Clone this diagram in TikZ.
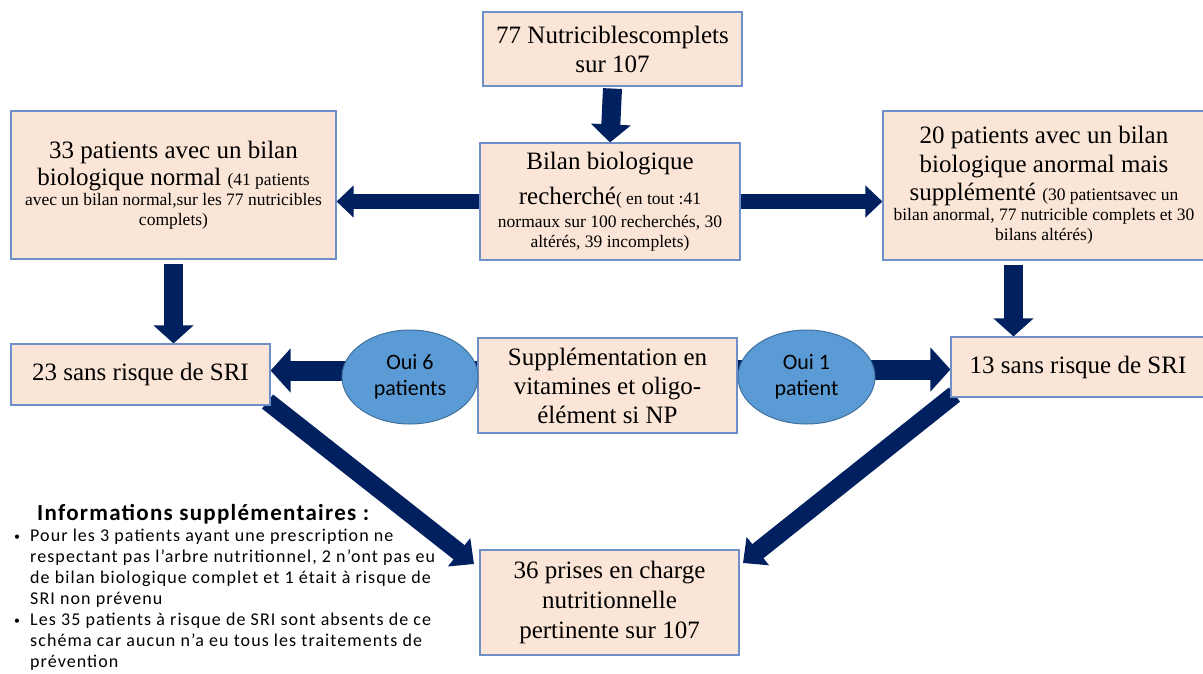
\documentclass[tikz,border=0pt]{standalone}
\usepackage{fontspec}
\setmainfont{Liberation Serif}
\newfontfamily\calib{Carlito}
\newfontfamily\calibls{Carlito}[LetterSpace=6]
\newfontfamily\calibtt{Carlito}[LetterSpace=5.5]
\usetikzlibrary{arrows.meta,shapes.geometric,backgrounds}
\definecolor{navy}{HTML}{002060}
\definecolor{boxfill}{HTML}{FBE5D6}
\definecolor{boxline}{HTML}{6F8FC8}
\definecolor{ellfill}{HTML}{5B9BD5}
\definecolor{ellline}{HTML}{41719C}
\newcommand\fbig{\fontsize{25}{29}\selectfont}
\newcommand\fsml{\fontsize{17.5}{20}\selectfont}
\newcommand\bul{\makebox[16pt][l]{\raisebox{1pt}{\calib\fontsize{12}{12}\selectfont •}}}
\tikzset{
  box/.style={draw=boxline, fill=boxfill, line width=1.1pt, align=center, inner sep=0pt, font=\fbig},
  ell/.style={ellipse, draw=ellline, fill=ellfill, line width=1pt, inner sep=0pt, align=center, font=\calib\fontsize{22}{26}\selectfont},
  varrow/.style={draw=navy, line width=19pt, -{Triangle[length=18pt,width=39pt]}},
  harrow/.style={draw=navy, line width=15pt, -{Triangle[length=17pt,width=31pt]}},
  oarrow/.style={draw=navy, line width=20pt, -{Triangle[length=20pt,width=43pt]}},
  darrow/.style={draw=navy, line width=18pt, -{Triangle[length=19pt,width=35pt]}}
}
\begin{document}
\begin{tikzpicture}[x=1pt,y=-1pt]
\useasboundingbox (0,0) rectangle (1203,673);
% boxes
\node[box, minimum width=259pt, minimum height=74pt] (top) at (612.5,49) {77 Nutriciblescomplets\\ sur 107};
\node[box, minimum width=260pt, minimum height=117pt] (bilan) at (610,201.5)
  {Bilan biologique\\[6pt] recherché{\fsml( en tout :41}\\[-6pt] {\fsml normaux sur 100 recherchés, 30}\\[-9pt] {\fsml altérés, 39 incomplets)}};
\node[box, minimum width=325pt, minimum height=148pt] (left) at (173.5,185)
  {33 patients avec un bilan\\[-2pt] biologique normal {\fsml(41 patients}\\[-9pt] {\fsml avec un bilan normal,sur les 77 nutricibles}\\[-9pt] {\fsml complets)}};
\node[box, minimum width=322pt, minimum height=149pt] (right) at (1044,185.5)
  {20 patients avec un bilan\\ biologique anormal mais\\[-1pt] supplémenté {\fsml(30 patientsavec un}\\[-9pt] {\fsml bilan anormal, 77 nutricible complets et 30}\\[-9pt] {\fsml bilans altérés)}};
\node[box, minimum width=259pt, minimum height=61pt] (r23) at (140.5,374.5) {23 sans risque de SRI};
\node[box, minimum width=259pt, minimum height=95pt] (sup) at (607.5,385.5) {Supplémentation en\\ vitamines et oligo-\\ élément si NP};
\node[box, minimum width=254pt, minimum height=60pt] (r13) at (1078,367) {13 sans risque de SRI};
\node[box, minimum width=259pt, minimum height=105pt] (r36) at (609.5,602.5) {36 prises en charge\\[1pt] nutritionnelle\\[1pt] pertinente sur 107};
\coordinate (tipL) at (474,564);
\coordinate (tipR) at (743,563);
% arrows
\begin{pgfonlayer}{background}
\draw[varrow] ([yshift=-2pt]top.south) -- (bilan.north);
\draw[harrow] (bilan.west) -- (bilan.west -| left.east);
\draw[harrow] (bilan.east) -- (bilan.east -| right.west);
\draw[varrow] ([yshift=-4pt]left.south) -- (left.south |- r23.north);
\draw[varrow] ([xshift=-30.5pt,yshift=-4pt]right.south) -- ([xshift=-30.5pt]right.south |- r13.north);
\draw[oarrow] ([yshift=15pt]sup.west) -- ([yshift=15pt]sup.west -| r23.east);
\draw[oarrow] ([yshift=16pt]sup.east) -- ([yshift=16pt]sup.east -| r13.west);
\draw[darrow] ([xshift=-3pt,yshift=4pt]r23.south east) -- (tipL);
\draw[darrow] ([xshift=4pt,yshift=3pt]r13.south west) -- (tipR);
\end{pgfonlayer}
% ellipses
\node[ell, minimum width=136pt, minimum height=94pt] (oui6) at (410,377) {Oui 6\\ patients};
\node[ell, minimum width=137pt, minimum height=94pt] (oui1) at (806.5,377) {Oui 1\\ patient};
% info
\node[anchor=base west, inner sep=0pt, font=\calibtt\bfseries\fontsize{23}{26}\selectfont] (infot) at (37,520) {Informations supplémentaires :};
\node[anchor=north west, inner sep=0pt, align=left, font=\calibls\fontsize{18}{21.1}\selectfont] (infol) at (14,528.5)
  {\bul Pour les 3 patients ayant une prescription ne\\
   \hspace*{16pt}respectant pas l’arbre nutritionnel, 2 n’ont pas eu\\
   \hspace*{16pt}de bilan biologique complet et 1 était à risque de\\
   \hspace*{16pt}SRI non prévenu\\
   \bul Les 35 patients à risque de SRI sont absents de ce\\
   \hspace*{16pt}schéma car aucun n’a eu tous les traitements de\\
   \hspace*{16pt}prévention};
\end{tikzpicture}
\end{document}
